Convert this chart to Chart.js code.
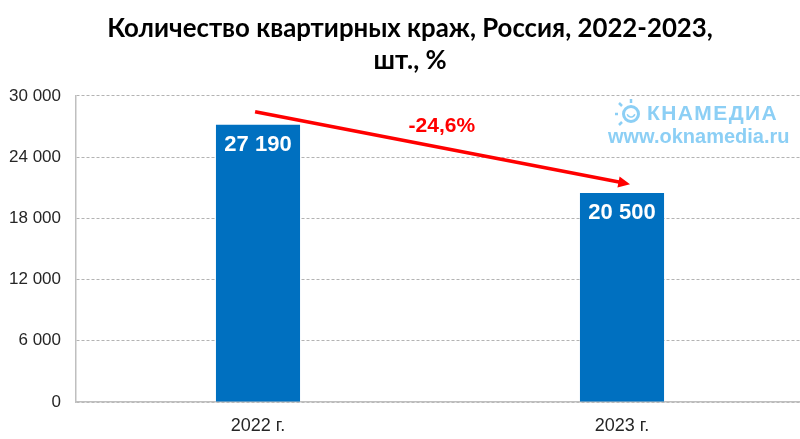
<!DOCTYPE html>
<html lang="ru">
<head>
<meta charset="utf-8">
<title>Количество квартирных краж</title>
<script src="https://cdn.jsdelivr.net/npm/chart.js@4"></script>
<style>
  html, body { margin: 0; padding: 0; background: #fff; overflow: hidden; }
  #wrap { width: 804px; height: 439px; }
</style>
</head>
<body>
<div id="wrap"><canvas id="chart"></canvas></div>
<script>
/* ── DATA ─────────────────────────────────────────────── */
const categories = ['2022 г.', '2023 г.'];
const thefts     = [27190, 20500];
const yTicks     = [0, 6000, 12000, 18000, 24000, 30000];
const titleLines = ['Количество квартирных краж, Россия, 2022-2023,', 'шт., %'];
const changeText = '-24,6%';
const arrowFrom  = [-0.008, 28450];      /* category index, value */
const arrowTo    = [1.022, 21350];
const changeAt   = [0.505, 27000];
const markText   = ['КНАМЕДИА', 'www.oknamedia.ru'];   /* the sun stands in for the first О */

const fmt = v => String(v).replace(/\B(?=(\d{3})+$)/g, ' ');

/* ── TITLE IS CENTRED A LITTLE RIGHT OF THE CANVAS MIDDLE ─ */
const titleShift = {
  id: 'titleShift',
  afterLayout(chart) { chart.titleBlock.left = 16; }
};

/* ── LABELS ON BARS ───────────────────────────────────── */
const barLabels = {
  id: 'barLabels',
  afterDatasetsDraw(chart) {
    const { ctx } = chart;
    ctx.save();
    ctx.fillStyle = '#fff';
    ctx.font = 'bold 22px "Liberation Sans"';
    ctx.textAlign = 'center';
    ctx.textBaseline = 'middle';
    chart.getDatasetMeta(0).data.forEach((bar, i) => {
      ctx.fillText(fmt(thefts[i]), bar.x, bar.y + 20);
    });
    ctx.restore();
  }
};

/* ── WATERMARK ────────────────────────────────────────── */
const watermark = {
  id: 'watermark',
  beforeDatasetsDraw(chart) {
    const { ctx } = chart;
    const blue = '#8ccff5';
    ctx.save();
    ctx.fillStyle = blue;
    ctx.strokeStyle = blue;
    ctx.textBaseline = 'middle';
    ctx.textAlign = 'left';
    ctx.font = 'bold 21px "Liberation Sans"';
    ctx.letterSpacing = '1.4px';
    ctx.fillText(markText[0], 647, 114);
    ctx.letterSpacing = '0px';
    ctx.font = 'bold 20px "Liberation Sans"';
    ctx.fillText(markText[1], 608, 137);
    /* sun */
    ctx.lineWidth = 3;
    ctx.beginPath();
    ctx.arc(631, 114, 7.5, 0, Math.PI * 2);
    ctx.stroke();
    ctx.lineWidth = 1.5;
    ctx.beginPath();
    ctx.arc(631, 113, 4, 0.1 * Math.PI, 0.9 * Math.PI);
    ctx.stroke();
    ctx.lineWidth = 2.5;
    [[615, 114, 618, 114], [619, 103, 622, 106], [631, 99, 631, 103], [619, 125, 622, 122]].forEach(s => {
      ctx.beginPath();
      ctx.moveTo(s[0], s[1]);
      ctx.lineTo(s[2], s[3]);
      ctx.stroke();
    });
    ctx.restore();
  }
};

/* ── CHANGE ARROW ─────────────────────────────────────── */
const changeArrow = {
  id: 'changeArrow',
  afterDatasetsDraw(chart) {
    const { ctx, scales: { x, y } } = chart;
    const x1 = x.getPixelForValue(arrowFrom[0]), y1 = y.getPixelForValue(arrowFrom[1]);
    const x2 = x.getPixelForValue(arrowTo[0]),   y2 = y.getPixelForValue(arrowTo[1]);
    const a = Math.atan2(y2 - y1, x2 - x1);
    ctx.save();
    ctx.strokeStyle = '#ff0000';
    ctx.fillStyle = '#ff0000';
    ctx.lineWidth = 3.5;
    ctx.beginPath();
    ctx.moveTo(x1, y1);
    ctx.lineTo(x2 - 6 * Math.cos(a), y2 - 6 * Math.sin(a));
    ctx.stroke();
    ctx.beginPath();
    ctx.moveTo(x2, y2);
    ctx.lineTo(x2 - 13 * Math.cos(a - 0.45), y2 - 13 * Math.sin(a - 0.45));
    ctx.lineTo(x2 - 13 * Math.cos(a + 0.45), y2 - 13 * Math.sin(a + 0.45));
    ctx.closePath();
    ctx.fill();
    ctx.font = 'bold 21px "Liberation Sans"';
    ctx.textAlign = 'center';
    ctx.textBaseline = 'middle';
    ctx.fillText(changeText, x.getPixelForValue(changeAt[0]), y.getPixelForValue(changeAt[1]));
    ctx.restore();
  }
};

/* ── CHART ────────────────────────────────────────────── */
new Chart(document.getElementById('chart'), {
  type: 'bar',
  data: {
    labels: categories,
    datasets: [{
      data: thefts,
      backgroundColor: '#0070c0',
      barPercentage: 0.231,
      categoryPercentage: 1
    }]
  },
  options: {
    responsive: true,
    maintainAspectRatio: false,
    animation: false,
    plugins: {
      legend: { display: false },
      tooltip: { enabled: false },
      title: {
        display: true,
        text: titleLines,
        color: '#000',
        font: { family: 'Lato, "Open Sans"', size: 25.8, weight: 'bold', lineHeight: 1.24 },
        padding: { top: 13, bottom: 19 }
      }
    },
    scales: {
      x: {
        afterFit: s => { s.height = 37; },
        grid: { display: false, drawTicks: false },
        border: { color: '#bfbfbf', width: 1.5 },
        ticks: { color: '#262626', font: { family: '"Liberation Sans"', size: 18 }, padding: 13, maxRotation: 0 }
      },
      y: {
        min: 0,
        max: 30000,
        afterFit: s => { s.width = 76; },
        afterBuildTicks: s => { s.ticks = yTicks.map(value => ({ value })); },
        grid: { color: '#b3b3b3', drawTicks: false, lineWidth: 1 },
        border: { color: '#bfbfbf', width: 1.5, dash: [3, 2] },
        ticks: { color: '#262626', font: { family: '"Liberation Sans"', size: 17 }, padding: 15, callback: v => fmt(v) }
      }
    }
  },
  plugins: [titleShift, watermark, barLabels, changeArrow]
});
</script>
</body>
</html>
